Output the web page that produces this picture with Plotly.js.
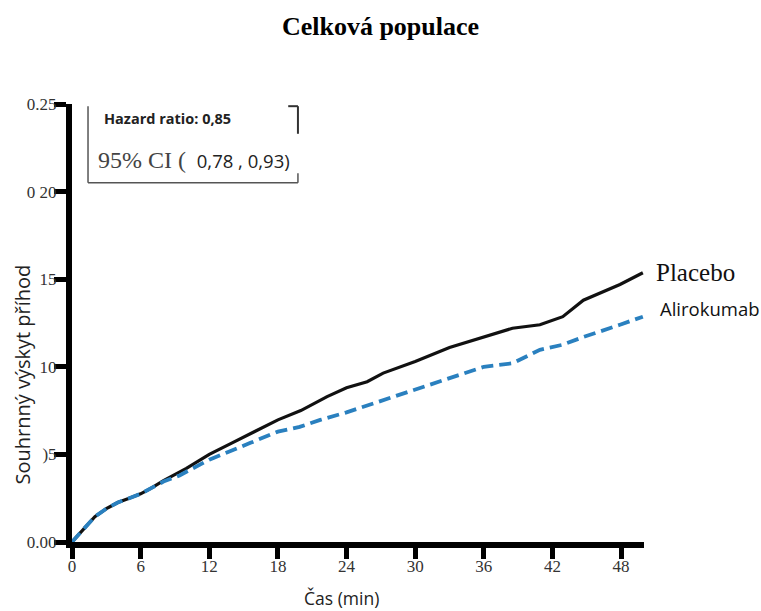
<!DOCTYPE html>
<html>
<head>
<meta charset="utf-8">
<script src="https://cdn.plot.ly/plotly-3.0.1.min.js"></script>
<style>html,body{margin:0;padding:0;background:#fff;}#chart{width:761px;height:611px;}</style>
</head>
<body>
<div id="chart"></div>
<script>
// Data
const placeboX = [0, 1, 2, 3, 4, 5, 6, 7, 8, 10, 12, 14, 16, 18, 20, 22.3, 24, 25.8, 27.2, 30, 33, 36, 38.5, 40.9, 42.9, 44.7, 46.2, 47.9, 49.9];
const placeboY = [0, 0.0075, 0.0145, 0.019, 0.0225, 0.025, 0.0275, 0.031, 0.035, 0.042, 0.050, 0.0566, 0.063, 0.0697, 0.075, 0.083, 0.088, 0.0915, 0.0964, 0.103, 0.111, 0.117, 0.122, 0.124, 0.1286, 0.138, 0.142, 0.147, 0.1537];
const aliroX = [0, 1, 2, 3, 4, 5, 6, 7, 8, 9.4, 12, 15.6, 18, 19.9, 21.7, 24, 27.2, 30, 33, 36, 38.5, 40.9, 42.9, 44.7, 47.9, 49.9];
const aliroY = [0, 0.0075, 0.0145, 0.019, 0.0225, 0.025, 0.0275, 0.031, 0.0345, 0.038, 0.047, 0.0566, 0.063, 0.0657, 0.0697, 0.074, 0.081, 0.0869, 0.094, 0.100, 0.102, 0.1097, 0.1126, 0.117, 0.124, 0.1286];
const xTicks = [0, 6, 12, 18, 24, 30, 36, 42, 48];
const yTickVals = [0, 0.05, 0.10, 0.15, 0.20, 0.25];
const yTickText = ["0.00", ")5", "10", "15", "0 20", "0.25"];
const seriesNames = ["Placebo", "Alirokumab"];

const serif = "Liberation Serif, Times New Roman, serif";
const sans = "Open Sans, Noto Sans, sans-serif";

const traces = [
  {x: placeboX, y: placeboY, name: seriesNames[0], mode: "lines", line: {color: "#111111", width: 3.2}, showlegend: false},
  {x: aliroX, y: aliroY, name: seriesNames[1], mode: "lines", line: {color: "#2a80bf", width: 3.8, dash: "12px,6px"}, showlegend: false}
];

const gray = "#555555";
const layout = {
  width: 761, height: 611,
  margin: {l: 72, r: 117, t: 104, b: 69},
  paper_bgcolor: "#ffffff", plot_bgcolor: "#ffffff",
  title: {text: "<b>Celková populace</b>", font: {family: serif, size: 26, color: "#000"}, x: 0.5, xanchor: "center", y: 0.958, yanchor: "middle"},
  xaxis: {
    range: [0, 50], tickvals: xTicks, ticktext: xTicks.map(String),
    showgrid: false, zeroline: false, showline: true, linecolor: "#000", linewidth: 6,
    ticks: "outside", ticklen: 11, tickwidth: 5, tickcolor: "#000", ticklabelstandoff: -7,
    tickfont: {family: serif, size: 17, color: "#333"}
  },
  yaxis: {
    range: [0, 0.25], tickvals: yTickVals, ticktext: yTickText,
    showgrid: false, zeroline: false, showline: true, linecolor: "#000", linewidth: 6,
    ticks: "outside", ticklen: 12, tickwidth: 5, tickcolor: "#000", ticklabelstandoff: -6,
    tickfont: {family: serif, size: 17, color: "#333"}
  },
  shapes: [
    {type: "line", xref: "paper", yref: "paper", x0: 0.028, x1: 0.028, y0: 0.995, y1: 0.820, line: {color: gray, width: 1.5}},
    {type: "line", xref: "paper", yref: "paper", x0: 0.028, x1: 0.395, y0: 0.820, y1: 0.820, line: {color: gray, width: 1.5}},
    {type: "line", xref: "paper", yref: "paper", x0: 0.395, x1: 0.395, y0: 0.820, y1: 0.842, line: {color: gray, width: 1.5}},
    {type: "line", xref: "paper", yref: "paper", x0: 0.395, x1: 0.395, y0: 0.995, y1: 0.932, line: {color: "#333", width: 2}},
    {type: "line", xref: "paper", yref: "paper", x0: 0.378, x1: 0.395, y0: 0.995, y1: 0.995, line: {color: "#333", width: 2}}
  ],
  annotations: [
    {xref: "paper", yref: "paper", x: 0.052, y: 0.966, xanchor: "left", yanchor: "middle", showarrow: false,
     text: "<b>Hazard ratio: 0,85</b>", font: {family: sans, size: 14.5, color: "#222"}},
    {xref: "paper", yref: "paper", x: 0.042, y: 0.872, xanchor: "left", yanchor: "middle", showarrow: false,
     text: "<span style=\"font-family:Liberation Serif;font-size:24px;color:#444\">95% CI ( </span><span style=\"font-family:Open Sans;font-size:18.5px;color:#222\"> 0,78 , 0,93)</span>"},
    {xref: "paper", yref: "paper", x: 1.018, y: 0.616, xanchor: "left", yanchor: "middle", showarrow: false,
     text: seriesNames[0], font: {family: serif, size: 25, color: "#111"}},
    {xref: "paper", yref: "paper", x: 1.025, y: 0.534, xanchor: "left", yanchor: "middle", showarrow: false,
     text: seriesNames[1], font: {family: sans, size: 18.5, color: "#111"}},
    {xref: "paper", yref: "paper", x: 0.471, y: -0.128, xanchor: "center", yanchor: "middle", showarrow: false,
     text: "Čas (min)", font: {family: sans, size: 17.5, color: "#222"}},
    {xref: "paper", yref: "paper", x: -0.087, y: 0.383, xanchor: "center", yanchor: "middle", showarrow: false, textangle: -90,
     text: "Souhrnný výskyt příhod", font: {family: sans, size: 20, color: "#222"}}
  ]
};

Plotly.newPlot("chart", traces, layout, {displayModeBar: false, staticPlot: true});
</script>
</body>
</html>
